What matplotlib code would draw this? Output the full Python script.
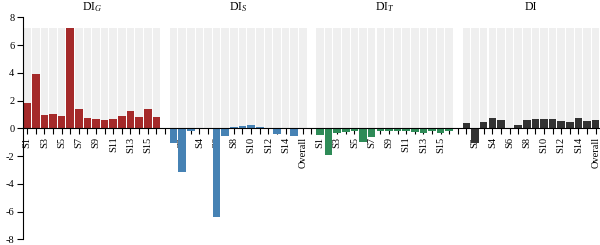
import matplotlib
matplotlib.use("Agg")
import matplotlib.pyplot as plt
import numpy as np

plt.rcParams['font.family'] = ['Liberation Serif', 'DejaVu Serif']
plt.rcParams['mathtext.fontset'] = 'custom'
plt.rcParams['mathtext.rm'] = 'Liberation Serif'
plt.rcParams['mathtext.it'] = 'Liberation Serif:italic'

# Data
categories = ['S1', 'S2', 'S3', 'S4', 'S5', 'S6', 'S7', 'S8', 'S9', 'S10',
              'S11', 'S12', 'S13', 'S14', 'S15', 'Overall']
di_g = [1.85, 3.92, 0.99, 1.01, 0.91, 7.26, 1.37, 0.75, 0.65, 0.58,
        0.70, 0.87, 1.23, 0.82, 1.39, 0.84]
di_s = [-1.03, -3.15, -0.22, -0.06, -0.08, -6.37, -0.55, 0.07, 0.17, 0.26,
        0.13, 0.02, -0.43, -0.03, -0.55, -0.05]
di_t = [-0.48, -1.92, -0.30, -0.24, -0.20, -0.96, -0.60, -0.20, -0.20, -0.17,
        -0.20, -0.29, -0.36, -0.17, -0.30, -0.20]
di = [0.36, -1.08, 0.46, 0.75, 0.62, -0.04, 0.22, 0.60, 0.70, 0.67,
      0.67, 0.50, 0.43, 0.75, 0.50, 0.62]

panels = [(r'DI$_{\mathit{G}}$', di_g, '#a52a2a'),
          (r'DI$_{\mathit{S}}$', di_s, '#4682b4'),
          (r'DI$_{\mathit{T}}$', di_t, '#2e8b57'),
          ('DI', di, '#333333')]

n = len(categories)
step = n + 1
bg_height = max(max(v) for _, v, _ in panels)

fig = plt.figure(figsize=(6, 2.45), dpi=100)
ax = fig.add_axes([0.038, 0.023, 0.962, 0.906])

# Axis styling first (moving a spine resets tick label properties)
ax.spines['top'].set_visible(False)
ax.spines['right'].set_visible(False)
ax.spines['bottom'].set_position(('data', 0))
ax.spines['bottom'].set_zorder(3)
ax.spines['left'].set_linewidth(0.8)
ax.spines['bottom'].set_linewidth(0.8)

tick_pos = np.arange(step * len(panels) - 1)
tick_lab = [''] * len(tick_pos)

for k, (title, vals, color) in enumerate(panels):
    x = np.arange(n) + k * step
    ax.bar(x, bg_height, width=0.88, color='#efefef', zorder=1)
    ax.bar(x, vals, width=0.88, color=color, zorder=2)
    ax.text(x.mean(), 8.75, title, ha='center', va='center', fontsize=8.5,
            clip_on=False)
    for i, p in enumerate(x):
        if p % 2 == 0:
            tick_lab[p] = categories[i]

ax.set_xlim(-0.5, tick_pos[-1] + 0.5)
ax.set_ylim(-8, 8)
ax.set_yticks(np.arange(-8, 9, 2))
ax.set_yticklabels([str(v) for v in range(-8, 9, 2)])
ax.set_xticks(tick_pos)
ax.set_xticklabels(tick_lab, rotation=90, va='top')
ax.tick_params(axis='x', length=4, width=0.8, labelsize=7.5, pad=2)
ax.tick_params(axis='y', length=4, width=0.8, labelsize=7.5, pad=2)

fig.savefig('out.png', dpi=100)
